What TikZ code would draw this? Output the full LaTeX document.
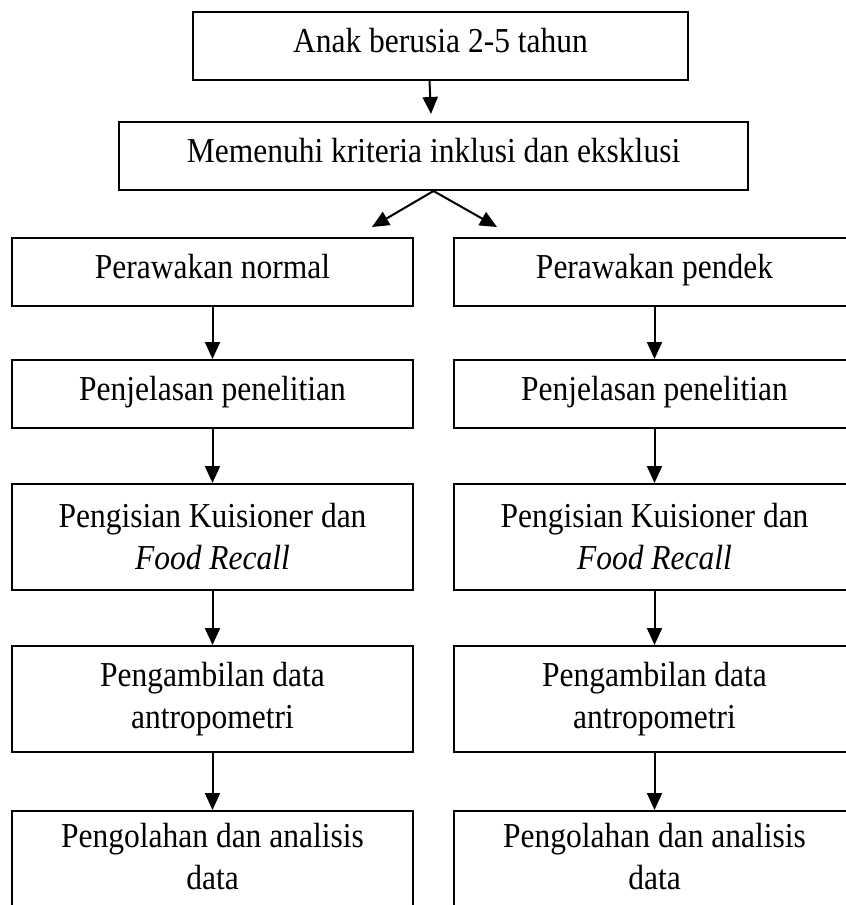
\documentclass[tikz,border=0pt]{standalone}
\usepackage{fontspec}
\setmainfont{Liberation Serif}[FakeStretch=0.9]
\usetikzlibrary{positioning,arrows.meta}
\begin{document}
\begin{tikzpicture}[x=1pt, y=1pt,
    box/.style={draw, rectangle, line width=2pt, inner sep=0pt, align=center, minimum height=68pt},
    line/.style={box, text height=23pt, text depth=11pt},
    col/.style={line, minimum width=401pt},
    colhigh/.style={box, minimum width=401pt, minimum height=106pt},
    last/.style={colhigh, text height=66pt, text depth=16pt},
    arr/.style={-{Triangle[length=17pt,width=15pt]}, line width=2pt},
    font=\fontsize{35}{42}\selectfont]
    \path[use as bounding box, clip] (0,0) rectangle (846,-905);

    \node[line, minimum width=495pt] (anak) at (440.5,-46) {Anak berusia 2-5 tahun};
    \node[line, minimum width=629pt] (kriteria) at (433.5,-156) {Memenuhi kriteria inklusi dan eksklusi};

    \node[col] (normal) at (212.5,-272) {Perawakan normal};
    \node[col, below=52pt of normal] (jelasN) {Penjelasan penelitian};
    \node[colhigh, below=54pt of jelasN] (isiN) {Pengisian Kuisioner dan\\\textit{Food Recall}};
    \node[colhigh, below=54pt of isiN] (ukurN) {Pengambilan data\\antropometri};
    \node[last, below=57pt of ukurN] (olahN) {Pengolahan dan analisis\\data};

    \node[col] (pendek) at (654.5,-272) {Perawakan pendek};
    \node[col, below=52pt of pendek] (jelasP) {Penjelasan penelitian};
    \node[colhigh, below=54pt of jelasP] (isiP) {Pengisian Kuisioner dan\\\textit{Food Recall}};
    \node[colhigh, below=54pt of isiP] (ukurP) {Pengambilan data\\antropometri};
    \node[last, below=57pt of ukurP] (olahP) {Pengolahan dan analisis\\data};

    \draw[arr] ([xshift=-11pt]anak.south) -- ([xshift=-2.5pt,yshift=7pt]kriteria.north);
    \draw[arr] (kriteria.south) -- ([xshift=159.5pt,yshift=10pt]normal.north);
    \draw[arr] (kriteria.south) -- ([xshift=-157.5pt,yshift=10pt]pendek.north);

    \draw[arr] (normal) -- (jelasN);
    \draw[arr] (jelasN) -- (isiN);
    \draw[arr] (isiN) -- (ukurN);
    \draw[arr] (ukurN) -- (olahN);

    \draw[arr] (pendek) -- (jelasP);
    \draw[arr] (jelasP) -- (isiP);
    \draw[arr] (isiP) -- (ukurP);
    \draw[arr] (ukurP) -- (olahP);
\end{tikzpicture}
\end{document}
